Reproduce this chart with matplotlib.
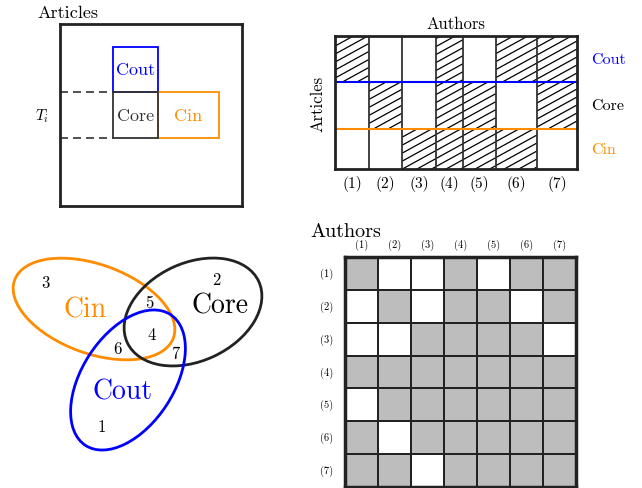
import numpy as np
import matplotlib
matplotlib.use("Agg")
import matplotlib.pyplot as plt
from matplotlib.patches import Rectangle, Ellipse
from matplotlib.colors import ListedColormap

plt.rcParams["font.family"] = "serif"
plt.rcParams["font.serif"] = ["cmr10", "DejaVu Serif"]
plt.rcParams["mathtext.fontset"] = "cm"
plt.rcParams["axes.formatter.use_mathtext"] = True

# ----------------------------------------------------------------------
# Daten
# ----------------------------------------------------------------------
BLUE = "#0000ff"
ORANGE = "#ff8c00"
DARK = "#222222"
GRAY = "#bdbdbd"

# Panel 1: Boxen (x, y, Breite, Höhe) im Panel-Koordinatensystem (Pixel, y nach unten)
outer_size = 182
box_cout = (53, 23, 45, 45)
box_core = (53, 68, 45, 46)
box_cin = (98, 68, 61, 46)

# Panel 2: Autoren-Spalten und Artikel-Zeilen
col_labels = ["(1)", "(2)", "(3)", "(4)", "(5)", "(6)", "(7)"]
col_widths = [34, 33, 34, 27, 33, 41, 40]
row_names = ["Cin", "Core", "Cout"]          # von unten nach oben
row_heights = [40, 47, 46]
row_colors = [ORANGE, "black", BLUE]
# schraffiert: Zeile (Cin, Core, Cout) x Spalte (1..7)
hatched = [
    [0, 0, 1, 1, 1, 1, 0],   # Cin
    [0, 1, 0, 1, 1, 0, 1],   # Core
    [1, 0, 0, 1, 0, 1, 1],   # Cout
]

# Panel 3: Venn-Ellipsen
venn_names = ["Cin", "Core", "Cout"]
venn_colors = [ORANGE, DARK, BLUE]
venn_centers = [(94, 70), (193, 73), (128, 141)]
venn_sizes = [(169, 89), (145, 98), (156, 92)]
venn_angles = [20, -25, -57]
venn_label_pos = [(85, 70), (220, 66), (123, 152)]
region_ids = ["1", "2", "3", "4", "5", "6", "7"]
region_pos = [(102, 187), (216, 40), (45, 43), (152, 95), (149, 63), (117, 109), (175, 114)]

# Panel 4: Autor-Autor-Matrix (1 = grau)
adjacency = np.array([
    [1, 0, 0, 1, 0, 1, 1],
    [0, 1, 0, 1, 1, 0, 1],
    [0, 0, 1, 1, 1, 1, 0],
    [1, 1, 1, 1, 1, 1, 1],
    [0, 1, 1, 1, 1, 1, 1],
    [1, 0, 1, 1, 1, 1, 1],
    [1, 1, 0, 1, 1, 1, 1],
])

# ----------------------------------------------------------------------
# Figur
# ----------------------------------------------------------------------
W, H = 642, 489
fig = plt.figure(figsize=(W / 100, H / 100), dpi=100)


def px_axes(x0, y0, w, h):
    ax = fig.add_axes([x0 / W, 1 - (y0 + h) / H, w / W, h / H])
    ax.set_xticks([])
    ax.set_yticks([])
    return ax


# --- Panel 1 -----------------------------------------------------------
ax1 = px_axes(60, 25, outer_size, outer_size)
ax1.set_xlim(0, outer_size)
ax1.set_ylim(outer_size, 0)
for s in ax1.spines.values():
    s.set_linewidth(2)
    s.set_color(DARK)
for (x, y, w, h), col, lab in [(box_cout, BLUE, "Cout"),
                               (box_cin, ORANGE, "Cin"),
                               (box_core, "#333333", "Core")]:
    ax1.add_patch(Rectangle((x, y), w, h, fill=False, ec=col, lw=1.3))
    ax1.text(x + w / 2, y + h / 2, lab, color=col, fontsize=13,
             ha="center", va="center")
for yy in (box_core[1], box_core[1] + box_core[3]):
    ax1.plot([0, box_core[0]], [yy, yy], color="#333333", lw=1.2,
             dashes=[4.8, 3])
ax1.text(-18, box_core[1] + box_core[3] / 2, r"$T_i$", fontsize=11,
         ha="center", va="center")
fig.text(37 / W, 1 - 13 / H, "Articles", fontsize=13, ha="left", va="center")

# --- Panel 2 -----------------------------------------------------------
ax2 = px_axes(335, 37, sum(col_widths), sum(row_heights))
ax2.set_xlim(0, sum(col_widths))
ax2.set_ylim(0, sum(row_heights))
for s in ax2.spines.values():
    s.set_linewidth(2)
    s.set_color(DARK)

x_edges = np.concatenate([[0], np.cumsum(col_widths)])
y_edges = np.concatenate([[0], np.cumsum(row_heights)])
slope, spacing = 0.55, 8.0
total_w, total_h = x_edges[-1], y_edges[-1]
offsets = np.arange(-slope * total_w, total_h + spacing, spacing)
for r in range(len(row_heights)):
    for c in range(len(col_widths)):
        if not hatched[r][c]:
            continue
        rect = Rectangle((x_edges[c], y_edges[r]), col_widths[c], row_heights[r],
                         fill=False, lw=0)
        ax2.add_patch(rect)
        for off in offsets:
            ln, = ax2.plot([0, total_w], [off, off + slope * total_w],
                           color="black", lw=0.9)
            ln.set_clip_path(rect)
for xe in x_edges[1:-1]:
    ax2.axvline(xe, color="#333333", lw=1.3)
ax2.axhline(y_edges[1], color=ORANGE, lw=1.5)
ax2.axhline(y_edges[2], color=BLUE, lw=1.5)

for c, lab in enumerate(col_labels):
    ax2.text((x_edges[c] + x_edges[c + 1]) / 2, -14, lab, fontsize=11,
             ha="center", va="center", clip_on=False)
for r, (name, col) in enumerate(zip(row_names, row_colors)):
    ax2.text(total_w + 14, (y_edges[r] + y_edges[r + 1]) / 2, name,
             color=col, fontsize=11.5, ha="left", va="center")
ax2.text(total_w / 2, total_h + 13, "Authors", fontsize=12,
         ha="center", va="center")
ax2.text(-17, total_h / 2, "Articles", fontsize=12, rotation=90,
         ha="center", va="center")

# --- Panel 3 -----------------------------------------------------------
ax3 = px_axes(0, 240, 290, 230)
ax3.set_xlim(0, 290)
ax3.set_ylim(230, 0)
ax3.axis("off")
for ctr, size, ang, col in zip(venn_centers, venn_sizes, venn_angles, venn_colors):
    ax3.add_patch(Ellipse(ctr, size[0], size[1], angle=ang, fill=False,
                          ec=col, lw=2.0))
for name, pos, col in zip(venn_names, venn_label_pos, venn_colors):
    ax3.text(pos[0], pos[1], name, color=col if col != DARK else "black",
             fontsize=20, ha="center", va="center")
for rid, pos in zip(region_ids, region_pos):
    ax3.text(pos[0], pos[1], rid, fontsize=12, ha="center", va="center")

# --- Panel 4 -----------------------------------------------------------
n = adjacency.shape[0]
ax4 = px_axes(345, 258, 231, 230)
ax4.pcolormesh(adjacency, cmap=ListedColormap(["white", GRAY]),
               edgecolors=DARK, linewidth=1.3)
ax4.set_xlim(0, n)
ax4.set_ylim(n, 0)
for s in ax4.spines.values():
    s.set_linewidth(2.5)
    s.set_color(DARK)
for i, lab in enumerate(col_labels):
    ax4.text(i + 0.5, -0.38, lab, fontsize=7.5, ha="center", va="center")
    ax4.text(-0.55, i + 0.5, lab, fontsize=7.5, ha="center", va="center")
fig.text(310 / W, 1 - 232 / H, "Authors", fontsize=14.5, ha="left",
         va="center")

fig.savefig("out.png", dpi=100)
